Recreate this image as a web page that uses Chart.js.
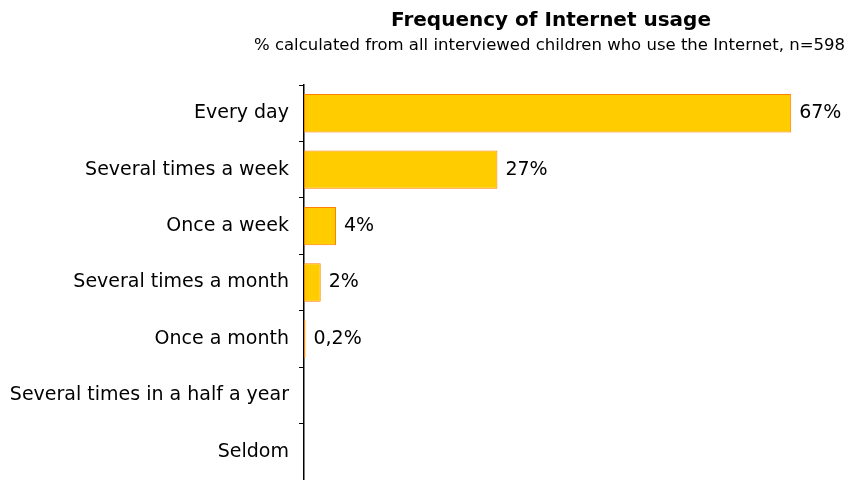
<!DOCTYPE html>
<html>
<head>
<meta charset="utf-8">
<script src="https://cdn.jsdelivr.net/npm/chart.js@4/dist/chart.umd.min.js"></script>
<style>
html,body{margin:0;padding:0;background:#fff;}
#wrap{width:847px;height:480px;position:relative;}
</style>
</head>
<body>
<div id="wrap"><canvas id="c" width="847" height="480"></canvas></div>
<script>
const categories = ["Every day","Several times a week","Once a week","Several times a month","Once a month","Several times in a half a year","Seldom"];
const values = [67, 26.6, 4.4, 2.3, 0.2, 0, 0];
const valueLabels = ["67%","27%","4%","2%","0,2%","",""];
const titleText = "Frequency of Internet usage";
const subtitleText = "% calculated from all interviewed children who use the Internet, n=598";

const FONT = "'DejaVu Sans', Verdana, sans-serif";

const textPlugin = {
  id: 'texts',
  afterDraw(chart) {
    const ctx = chart.ctx;
    ctx.save();
    ctx.fillStyle = '#000';
    ctx.textBaseline = 'middle';
    ctx.font = "bold 20px " + FONT;
    ctx.textAlign = 'center';
    ctx.fillText(titleText, 551, 21);
    ctx.font = "16.5px " + FONT;
    ctx.textAlign = 'right';
    ctx.fillText(subtitleText, 845, 46);
    ctx.font = "19px " + FONT;
    ctx.textAlign = 'left';
    const meta = chart.getDatasetMeta(0);
    meta.data.forEach((bar, i) => {
      if (!valueLabels[i]) return;
      ctx.fillText(valueLabels[i], bar.x + 8, bar.y);
    });
    ctx.restore();
  }
};

new Chart(document.getElementById('c'), {
  type: 'bar',
  data: {
    labels: categories,
    datasets: [{
      data: values,
      backgroundColor: '#FFCC00',
      borderColor: '#FF8000',
      borderWidth: 1,
      borderSkipped: false,
      barPercentage: 0.68,
      categoryPercentage: 1
    }]
  },
  options: {
    indexAxis: 'y',
    responsive: false,
    animation: false,
    devicePixelRatio: 1,
    layout: { padding: { top: 85, right: 34, bottom: 0, left: 0 } },
    plugins: { legend: { display: false }, tooltip: { enabled: false } },
    scales: {
      x: { display: false, min: 0, max: 70 },
      y: {
        afterFit(s) { s.width = 304; s.paddingTop = 0; s.paddingBottom = 0; },
        grid: { display: true, drawOnChartArea: false, offset: true, tickLength: 5, color: '#000', lineWidth: 1 },
        border: { display: true, color: '#000', width: 1.5 },
        ticks: { color: '#000', font: { family: FONT, size: 19 }, padding: 10 }
      }
    }
  },
  plugins: [textPlugin]
});
</script>
</body>
</html>
